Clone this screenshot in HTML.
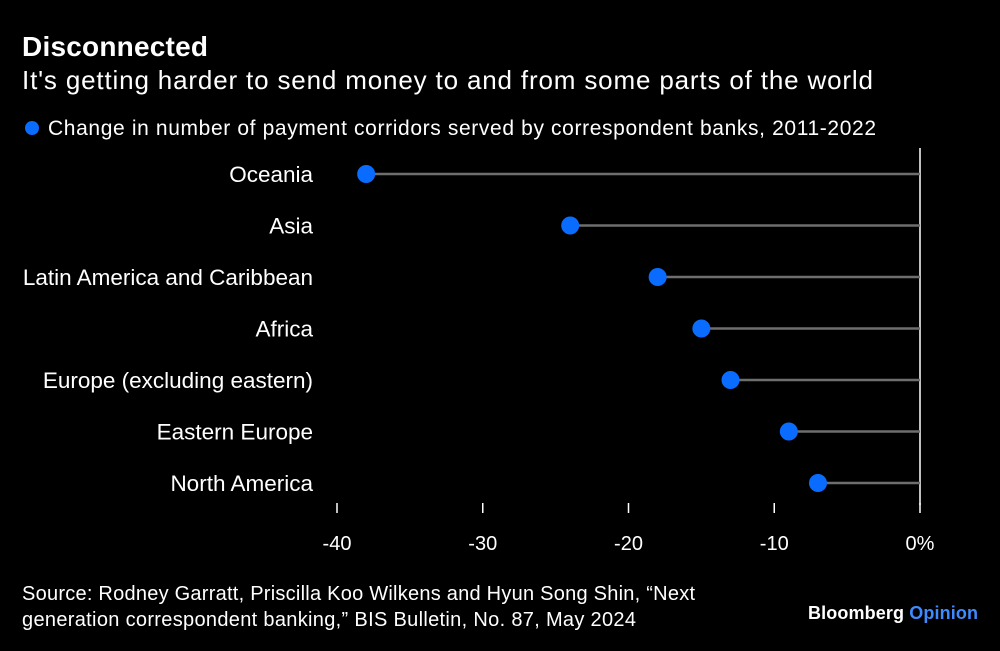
<!DOCTYPE html>
<html><head><meta charset="utf-8"><style>
body{margin:0;background:#000;width:1000px;height:646px;overflow:hidden;font-family:"Liberation Sans",Arial,sans-serif;color:#fff}
svg text{font-family:"Liberation Sans",Arial,sans-serif}
</style></head><body>
<svg width="1000" height="646">
<text x="22" y="56" font-size="28" font-weight="bold" fill="#fff" textLength="186">Disconnected</text>
<text x="22" y="89" font-size="26" fill="#fff" textLength="851">It's getting harder to send money to and from some parts of the world</text>
<circle cx="32" cy="128" r="7" fill="#0a6cff"/>
<text x="48" y="135" font-size="21" fill="#fff" textLength="828">Change in number of payment corridors served by correspondent banks, 2011-2022</text>
<g id="plot"></g>
<text x="22" y="600" font-size="20" fill="#fff" textLength="673">Source: Rodney Garratt, Priscilla Koo Wilkens and Hyun Song Shin, “Next</text>
<text x="22" y="626" font-size="20" fill="#fff" textLength="614">generation correspondent banking,” BIS Bulletin, No. 87, May 2024</text>
<text x="808" y="619" font-size="18" font-weight="bold" fill="#fff" textLength="170">Bloomberg <tspan fill="#3d8bff">Opinion</tspan></text>
</svg>
<script>
const categories=["Oceania","Asia","Latin America and Caribbean","Africa","Europe (excluding eastern)","Eastern Europe","North America"];
const values=[-38,-24,-18,-15,-13,-9,-7];
const ticks=[-40,-30,-20,-10,0];
const tickLabels=["-40","-30","-20","-10","0%"];
const NS="http://www.w3.org/2000/svg";
const g=document.getElementById('plot');
const x=v=>920+(v)*(920-337)/40;
const y=i=>174+i*51.5;
function mk(t,a){const e=document.createElementNS(NS,t);for(const k in a)e.setAttribute(k,a[k]);g.appendChild(e);return e;}
let zl=mk('line',{x1:x(0),x2:x(0),y1:148,y2:505,stroke:'#fff','stroke-width':1.5});


ticks.forEach((t,i)=>{
 let l=mk('line',{x1:x(t),x2:x(t),y1:503,y2:513,stroke:'#fff','stroke-width':1.5});
 
 
 let tx=mk('text',{x:x(t),y:550,'font-size':20,fill:'#fff','text-anchor':'middle'});
 tx.textContent=tickLabels[i];
 
 
});
categories.forEach((c,i)=>{
 let lb=mk('text',{x:313,y:y(i)+8,'font-size':22.5,fill:'#fff','text-anchor':'end'});
 lb.textContent=c;
 
 
 let ln=mk('line',{x1:x(values[i]),x2:x(0),y1:y(i),y2:y(i),stroke:'#6e6e6e','stroke-width':2.5});
 
 
 let d=mk('circle',{cx:x(values[i]),cy:y(i),r:9,fill:'#0a6cff'});
 
 
});
</script>
</body></html>
